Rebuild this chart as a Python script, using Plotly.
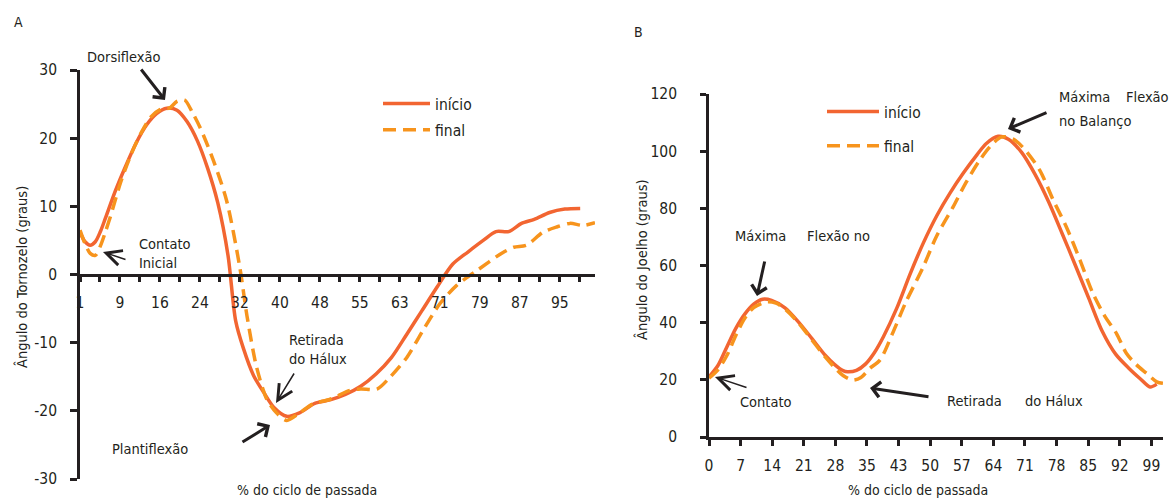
import plotly.graph_objects as go

# ---------------- DATA ----------------
# Panel A: ankle angle (graus) vs % do ciclo de passada
ankle_inicio_x = [1, 2, 3, 4, 5, 6, 8, 10, 12, 14, 16, 18, 20, 22, 24, 26, 28, 30, 31.5, 33, 35, 37, 39,
                  41.5, 44, 47, 50, 53, 56, 59, 62, 65, 68, 71, 74, 77, 80, 82.5, 85, 87.5, 90, 93, 96, 99]
ankle_inicio_y = [6.2, 4.8, 4.3, 4.8, 6.3, 8.3, 12.4, 16.0, 19.3, 21.9, 23.6, 24.4, 24.1, 22.4, 19.6, 15.6,
                  10.5, 2.8, -6.8, -10.8, -14.8, -17.3, -19.5, -20.8, -20.3, -18.9, -18.4, -17.6, -16.4,
                  -14.6, -12.2, -8.8, -5.3, -1.8, 1.5, 3.3, 5.0, 6.3, 6.3, 7.5, 8.1, 9.1, 9.6, 9.7]

ankle_final_x = [1, 2, 3, 4, 5, 6, 7, 9, 11, 13, 15, 17, 18.5, 20, 21.5, 23, 24.5, 27, 29.7, 32.3, 33.7,
                 35.6, 37.6, 39.5, 41.5, 44, 46.6, 50, 53.9, 56, 59.2, 61.7, 65, 68.2, 71.5, 74.8, 78.8,
                 83.8, 86, 88.5, 91.7, 94.5, 97, 99.5, 101.9]
ankle_final_y = [6.5, 4.5, 3.1, 2.8, 4.2, 6.3, 8.6, 13.6, 17.6, 20.8, 23.2, 24.3, 24.4, 25.4, 25.6, 23.8,
                 21.6, 17.0, 10.9, 1.1, -6.0, -13.6, -18.3, -20.3, -21.4, -20.3, -19.0, -18.3, -17.0,
                 -16.8, -16.8, -15.1, -12.2, -8.2, -4.3, -1.6, 0.6, 3.2, 4.0, 4.3, 6.2, 7.0, 7.5, 7.2, 7.6]

ankle_tick_labels = ["1", "9", "16", "24", "32", "40", "48", "55", "63", "71", "79", "87", "95"]
ankle_y_ticks = [-30, -20, -10, 0, 10, 20, 30]

# Panel B: knee angle (graus) vs % do ciclo de passada
knee_inicio_x = [0, 2, 4, 6, 8, 10, 12, 14, 17, 20, 23, 26, 28, 30, 31, 33, 35, 37, 39, 42, 45, 48, 51,
                 54, 57, 60, 62, 64.7, 67, 70, 73, 76, 79, 82, 85, 88, 91, 94, 96.5, 98.7, 100.2]
knee_inicio_y = [21.0, 25.0, 31.5, 38.0, 43.0, 46.5, 48.2, 47.8, 45.2, 40.3, 34.5, 28.6, 25.5, 23.2, 22.8,
                 23.3, 25.5, 29.5, 35.0, 45.0, 57.0, 68.0, 77.5, 85.5, 92.5, 98.8, 102.6, 105.2, 104.2,
                 99.5, 91.8, 82.3, 71.3, 60.0, 48.5, 37.0, 29.0, 24.0, 20.4, 17.5, 18.5]

knee_final_x = [0, 2, 4, 6, 8, 10, 13, 15, 17, 20, 23, 26, 28, 30, 32.2, 34, 36, 38.3, 41, 44, 47.9, 51,
                54.6, 57.5, 60.6, 63, 65.5, 68, 70.2, 74, 77, 80, 83, 85.9, 88.5, 91.2, 93.4, 95.5, 97.9,
                100.2, 101.6]
knee_final_y = [20.6, 23.5, 28.5, 35.5, 41.5, 45.3, 47.3, 46.8, 44.8, 40.0, 34.0, 28.0, 24.5, 21.5, 19.9,
                20.8, 24.0, 27.0, 36.0, 47.0, 59.4, 70.5, 80.4, 89.0, 96.9, 101.8, 105.0, 104.3, 101.4,
                93.4, 83.0, 73.4, 62.0, 50.3, 42.5, 36.2, 29.3, 25.5, 22.3, 19.3, 18.8]

knee_tick_labels = ["0", "7", "14", "21", "28", "35", "43", "50", "57", "64", "71", "78", "85", "92", "99"]
knee_y_ticks = [0, 20, 40, 60, 80, 100, 120]

series_names = ["início", "final"]

# ---------------- STYLE ----------------
W, H = 1169, 500
FONT = "DejaVu Sans Condensed, Liberation Sans Narrow, sans-serif"
INK = "#231F20"
C_INI = "#F26531"
C_FIN = "#F7941D"
LW = 3.5
DASH = "13px,7px"
TXT = 14.5


def px(x):
    return x / W


def py(y):
    return 1 - y / H


# category-like positions for tick labels (evenly spaced)
ankle_tick_pos = [1 + i * 94 / (len(ankle_tick_labels) - 1) for i in range(len(ankle_tick_labels))]
knee_tick_pos = [i * 99 / (len(knee_tick_labels) - 1) for i in range(len(knee_tick_labels))]

fig = go.Figure()

fig.add_trace(go.Scatter(x=ankle_inicio_x, y=ankle_inicio_y, mode="lines", name=series_names[0],
                         line=dict(color=C_INI, width=LW, shape="spline", smoothing=0.8),
                         xaxis="x", yaxis="y", legend="legend", legendgroup="a_ini"))
fig.add_trace(go.Scatter(x=ankle_final_x, y=ankle_final_y, mode="lines", name=series_names[1],
                         line=dict(color=C_FIN, width=LW, dash=DASH, shape="spline", smoothing=0.8),
                         xaxis="x", yaxis="y", legend="legend", legendgroup="a_fin"))
fig.add_trace(go.Scatter(x=knee_inicio_x, y=knee_inicio_y, mode="lines", name=series_names[0],
                         line=dict(color=C_INI, width=LW, shape="spline", smoothing=0.8),
                         xaxis="x2", yaxis="y2", legend="legend2", legendgroup="k_ini"))
fig.add_trace(go.Scatter(x=knee_final_x, y=knee_final_y, mode="lines", name=series_names[1],
                         line=dict(color=C_FIN, width=LW, dash=DASH, shape="spline", smoothing=0.8),
                         xaxis="x2", yaxis="y2", legend="legend2", legendgroup="k_fin"))

axis_common = dict(showgrid=False, zeroline=False, showline=True, linecolor=INK, linewidth=2.6,
                   ticks="outside", tickcolor=INK, tickwidth=2.6, automargin=False,
                   tickfont=dict(family=FONT, size=15.5, color=INK), fixedrange=True)

ya_dom = [py(479), py(70)]
yb_dom = [py(437), py(94)]
ya_range = [min(ankle_y_ticks), max(ankle_y_ticks)]
zero_pos = ya_dom[0] + (0 - ya_range[0]) / (ya_range[1] - ya_range[0]) * (ya_dom[1] - ya_dom[0])

fig.update_layout(
    width=W, height=H, autosize=False,
    margin=dict(l=0, r=0, t=0, b=0, pad=0, autoexpand=False),
    paper_bgcolor="white", plot_bgcolor="white",
    font=dict(family=FONT, size=TXT, color=INK),
    xaxis=dict(axis_common, domain=[px(80), px(595)], range=[1, 101.9], anchor="free", position=zero_pos,
               tickmode="array", tickvals=ankle_tick_pos, ticktext=ankle_tick_labels, ticklen=6,
               minor=dict(ticks="outside", tick0=1, dtick=94 / 24, ticklen=6, tickwidth=2.6, tickcolor=INK),
               ticklabelstandoff=7),
    yaxis=dict(axis_common, domain=ya_dom, range=ya_range, anchor="x", tickmode="array",
               tickvals=ankle_y_ticks, ticktext=[str(v) for v in ankle_y_ticks], ticklen=7,
               ticklabelstandoff=10),
    xaxis2=dict(axis_common, domain=[px(709), px(1163)], range=[0, 101.6], anchor="y2",
                tickmode="array", tickvals=knee_tick_pos, ticktext=knee_tick_labels, ticklen=6,
                ticklabelstandoff=7),
    yaxis2=dict(axis_common, domain=yb_dom, range=[0, 120], anchor="x2", tickmode="array",
                tickvals=knee_y_ticks, ticktext=[str(v) for v in knee_y_ticks], ticklen=6,
                ticklabelstandoff=20),
    legend=dict(x=px(378), y=py(87), xanchor="left", yanchor="top", bgcolor="rgba(0,0,0,0)",
                font=dict(family=FONT, size=15.5, color=INK), itemwidth=47, tracegroupgap=3,
                traceorder="grouped"),
    legend2=dict(x=px(822), y=py(95), xanchor="left", yanchor="top", bgcolor="rgba(0,0,0,0)",
                 font=dict(family=FONT, size=15.5, color=INK), itemwidth=52, tracegroupgap=11,
                 traceorder="grouped"),
    showlegend=True,
)

ann = []


def text(t, x, y, xanchor="center", yanchor="middle", size=TXT, align="center", angle=0):
    ann.append(dict(text=t, x=px(x), y=py(y), xref="paper", yref="paper", showarrow=False,
                    xanchor=xanchor, yanchor=yanchor, align=align, textangle=angle,
                    font=dict(family=FONT, size=size, color=INK)))


def arrow(head, tail, width, head_style, size):
    ann.append(dict(text="", x=px(head[0]), y=py(head[1]), xref="paper", yref="paper",
                    showarrow=True, ax=tail[0] - head[0], ay=tail[1] - head[1],
                    arrowcolor=INK, arrowwidth=width, arrowhead=head_style, arrowsize=size,
                    standoff=0, startstandoff=0))


# panel labels
text("A", 18, 22, size=14)
text("B", 638, 32, size=14)

# Panel A texts
text("Dorsiflexão", 124, 57)
text("Contato<br>Inicial", 137, 253, xanchor="left", align="left")
text("Retirada<br>do Hálux", 287, 349, xanchor="left", align="left")
text("Plantiflexão", 150, 449)
text("% do ciclo de passada", 307, 490, size=14)
text("Ângulo do Tornozelo (graus)", 21, 277, size=14.5, angle=-90)

# Panel A arrows
arrow((165, 100), (140, 68), 3, 4, 1.0)
arrow((103, 252), (127, 260), 1.5, 5, 2.0)
arrow((276, 403), (295, 372), 1.5, 5, 2.0)
arrow((270, 425), (241, 443), 3, 4, 1.0)

# Panel B texts
text("Ângulo do Joelho (graus)", 641, 260, size=14.5, angle=-90)
text("Máxima", 760, 236)
text("Flexão no", 838, 236)
text("Contato", 766, 402)
text("Retirada", 974, 401)
text("do Hálux", 1054, 401)
text("Máxima", 1057, 97, xanchor="left")
text("Flexão", 1124, 97, xanchor="left")
text("no Balanço", 1057, 121, xanchor="left")
text("% do ciclo de passada", 918, 490, size=14)

# Panel B arrows
arrow((757, 296), (765, 260), 3, 4, 1.0)
arrow((715, 377), (748, 388), 1.5, 5, 2.0)
arrow((870, 388), (930, 397), 3, 4, 1.0)
arrow((1008, 129), (1048, 112), 3, 4, 1.0)

fig.update_layout(annotations=ann)

fig.write_html("out.html", config={"displayModeBar": False},
               post_script="document.body.style.margin='0px';")
